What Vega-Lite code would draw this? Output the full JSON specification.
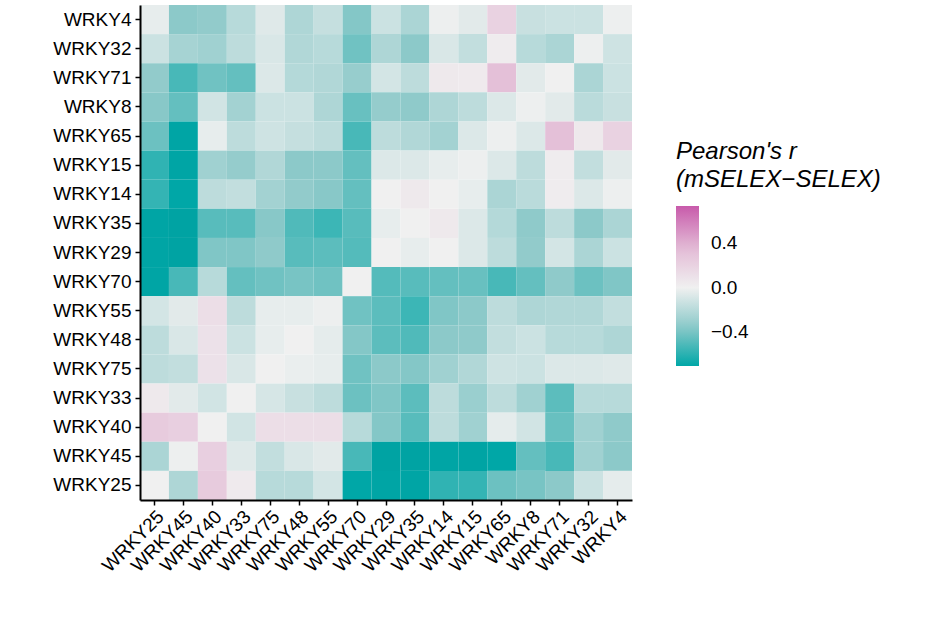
{
  "$schema": "https://vega.github.io/schema/vega-lite/v6.json",
  "width": 492,
  "height": 495,
  "autosize": {"type": "none"},
  "padding": {"left": 140, "top": 5, "right": 302, "bottom": 124},
  "background": "white",
  "config": {
    "font": "Liberation Sans",
    "view": {"stroke": null},
    "axis": {"domainColor": "black", "domainWidth": 2, "tickColor": "black", "tickWidth": 1.5, "tickSize": 5, "labelColor": "black", "labelFontSize": 19, "labelFont": "Liberation Sans", "title": null, "grid": false}
  },
  "data": {"values": [
{"r":"WRKY4","c":"WRKY25","v":-0.03},{"r":"WRKY4","c":"WRKY45","v":-0.35},{"r":"WRKY4","c":"WRKY40","v":-0.33},{"r":"WRKY4","c":"WRKY33","v":-0.2},{"r":"WRKY4","c":"WRKY75","v":-0.06},{"r":"WRKY4","c":"WRKY48","v":-0.23},{"r":"WRKY4","c":"WRKY55","v":-0.15},{"r":"WRKY4","c":"WRKY70","v":-0.37},{"r":"WRKY4","c":"WRKY29","v":-0.13},{"r":"WRKY4","c":"WRKY35","v":-0.24},{"r":"WRKY4","c":"WRKY14","v":-0.01},{"r":"WRKY4","c":"WRKY15","v":-0.05},{"r":"WRKY4","c":"WRKY65","v":0.2},{"r":"WRKY4","c":"WRKY8","v":-0.14},{"r":"WRKY4","c":"WRKY71","v":-0.13},{"r":"WRKY4","c":"WRKY32","v":-0.13},{"r":"WRKY4","c":"WRKY4","v":-0.01},
{"r":"WRKY32","c":"WRKY25","v":-0.13},{"r":"WRKY32","c":"WRKY45","v":-0.26},{"r":"WRKY32","c":"WRKY40","v":-0.28},{"r":"WRKY32","c":"WRKY33","v":-0.18},{"r":"WRKY32","c":"WRKY75","v":-0.08},{"r":"WRKY32","c":"WRKY48","v":-0.22},{"r":"WRKY32","c":"WRKY55","v":-0.2},{"r":"WRKY32","c":"WRKY70","v":-0.42},{"r":"WRKY32","c":"WRKY29","v":-0.23},{"r":"WRKY32","c":"WRKY35","v":-0.35},{"r":"WRKY32","c":"WRKY14","v":-0.08},{"r":"WRKY32","c":"WRKY15","v":-0.16},{"r":"WRKY32","c":"WRKY65","v":0.03},{"r":"WRKY32","c":"WRKY8","v":-0.2},{"r":"WRKY32","c":"WRKY71","v":-0.24},{"r":"WRKY32","c":"WRKY32","v":-0.01},{"r":"WRKY32","c":"WRKY4","v":-0.12},
{"r":"WRKY71","c":"WRKY25","v":-0.33},{"r":"WRKY71","c":"WRKY45","v":-0.52},{"r":"WRKY71","c":"WRKY40","v":-0.42},{"r":"WRKY71","c":"WRKY33","v":-0.45},{"r":"WRKY71","c":"WRKY75","v":-0.07},{"r":"WRKY71","c":"WRKY48","v":-0.21},{"r":"WRKY71","c":"WRKY55","v":-0.22},{"r":"WRKY71","c":"WRKY70","v":-0.31},{"r":"WRKY71","c":"WRKY29","v":-0.1},{"r":"WRKY71","c":"WRKY35","v":-0.18},{"r":"WRKY71","c":"WRKY14","v":0.05},{"r":"WRKY71","c":"WRKY15","v":0.04},{"r":"WRKY71","c":"WRKY65","v":0.32},{"r":"WRKY71","c":"WRKY8","v":-0.05},{"r":"WRKY71","c":"WRKY71","v":0},{"r":"WRKY71","c":"WRKY32","v":-0.24},{"r":"WRKY71","c":"WRKY4","v":-0.13},
{"r":"WRKY8","c":"WRKY25","v":-0.36},{"r":"WRKY8","c":"WRKY45","v":-0.45},{"r":"WRKY8","c":"WRKY40","v":-0.11},{"r":"WRKY8","c":"WRKY33","v":-0.27},{"r":"WRKY8","c":"WRKY75","v":-0.13},{"r":"WRKY8","c":"WRKY48","v":-0.13},{"r":"WRKY8","c":"WRKY55","v":-0.23},{"r":"WRKY8","c":"WRKY70","v":-0.44},{"r":"WRKY8","c":"WRKY29","v":-0.32},{"r":"WRKY8","c":"WRKY35","v":-0.34},{"r":"WRKY8","c":"WRKY14","v":-0.23},{"r":"WRKY8","c":"WRKY15","v":-0.18},{"r":"WRKY8","c":"WRKY65","v":-0.07},{"r":"WRKY8","c":"WRKY8","v":-0.01},{"r":"WRKY8","c":"WRKY71","v":-0.05},{"r":"WRKY8","c":"WRKY32","v":-0.19},{"r":"WRKY8","c":"WRKY4","v":-0.14},
{"r":"WRKY65","c":"WRKY25","v":-0.43},{"r":"WRKY65","c":"WRKY45","v":-0.72},{"r":"WRKY65","c":"WRKY40","v":-0.03},{"r":"WRKY65","c":"WRKY33","v":-0.18},{"r":"WRKY65","c":"WRKY75","v":-0.12},{"r":"WRKY65","c":"WRKY48","v":-0.15},{"r":"WRKY65","c":"WRKY55","v":-0.18},{"r":"WRKY65","c":"WRKY70","v":-0.52},{"r":"WRKY65","c":"WRKY29","v":-0.18},{"r":"WRKY65","c":"WRKY35","v":-0.22},{"r":"WRKY65","c":"WRKY14","v":-0.27},{"r":"WRKY65","c":"WRKY15","v":-0.07},{"r":"WRKY65","c":"WRKY65","v":-0.01},{"r":"WRKY65","c":"WRKY8","v":-0.07},{"r":"WRKY65","c":"WRKY71","v":0.32},{"r":"WRKY65","c":"WRKY32","v":0.05},{"r":"WRKY65","c":"WRKY4","v":0.2},
{"r":"WRKY15","c":"WRKY25","v":-0.58},{"r":"WRKY15","c":"WRKY45","v":-0.72},{"r":"WRKY15","c":"WRKY40","v":-0.28},{"r":"WRKY15","c":"WRKY33","v":-0.32},{"r":"WRKY15","c":"WRKY75","v":-0.22},{"r":"WRKY15","c":"WRKY48","v":-0.35},{"r":"WRKY15","c":"WRKY55","v":-0.35},{"r":"WRKY15","c":"WRKY70","v":-0.45},{"r":"WRKY15","c":"WRKY29","v":-0.07},{"r":"WRKY15","c":"WRKY35","v":-0.07},{"r":"WRKY15","c":"WRKY14","v":-0.03},{"r":"WRKY15","c":"WRKY15","v":-0.01},{"r":"WRKY15","c":"WRKY65","v":-0.07},{"r":"WRKY15","c":"WRKY8","v":-0.18},{"r":"WRKY15","c":"WRKY71","v":0.03},{"r":"WRKY15","c":"WRKY32","v":-0.16},{"r":"WRKY15","c":"WRKY4","v":-0.05},
{"r":"WRKY14","c":"WRKY25","v":-0.57},{"r":"WRKY14","c":"WRKY45","v":-0.7},{"r":"WRKY14","c":"WRKY40","v":-0.18},{"r":"WRKY14","c":"WRKY33","v":-0.16},{"r":"WRKY14","c":"WRKY75","v":-0.27},{"r":"WRKY14","c":"WRKY48","v":-0.33},{"r":"WRKY14","c":"WRKY55","v":-0.36},{"r":"WRKY14","c":"WRKY70","v":-0.45},{"r":"WRKY14","c":"WRKY29","v":0},{"r":"WRKY14","c":"WRKY35","v":0.05},{"r":"WRKY14","c":"WRKY14","v":0},{"r":"WRKY14","c":"WRKY15","v":-0.03},{"r":"WRKY14","c":"WRKY65","v":-0.24},{"r":"WRKY14","c":"WRKY8","v":-0.19},{"r":"WRKY14","c":"WRKY71","v":0.03},{"r":"WRKY14","c":"WRKY32","v":-0.07},{"r":"WRKY14","c":"WRKY4","v":-0.01},
{"r":"WRKY35","c":"WRKY25","v":-0.72},{"r":"WRKY35","c":"WRKY45","v":-0.74},{"r":"WRKY35","c":"WRKY40","v":-0.48},{"r":"WRKY35","c":"WRKY33","v":-0.48},{"r":"WRKY35","c":"WRKY75","v":-0.36},{"r":"WRKY35","c":"WRKY48","v":-0.5},{"r":"WRKY35","c":"WRKY55","v":-0.55},{"r":"WRKY35","c":"WRKY70","v":-0.48},{"r":"WRKY35","c":"WRKY29","v":-0.03},{"r":"WRKY35","c":"WRKY35","v":0},{"r":"WRKY35","c":"WRKY14","v":0.05},{"r":"WRKY35","c":"WRKY15","v":-0.07},{"r":"WRKY35","c":"WRKY65","v":-0.21},{"r":"WRKY35","c":"WRKY8","v":-0.34},{"r":"WRKY35","c":"WRKY71","v":-0.18},{"r":"WRKY35","c":"WRKY32","v":-0.35},{"r":"WRKY35","c":"WRKY4","v":-0.24},
{"r":"WRKY29","c":"WRKY25","v":-0.72},{"r":"WRKY29","c":"WRKY45","v":-0.74},{"r":"WRKY29","c":"WRKY40","v":-0.38},{"r":"WRKY29","c":"WRKY33","v":-0.38},{"r":"WRKY29","c":"WRKY75","v":-0.34},{"r":"WRKY29","c":"WRKY48","v":-0.48},{"r":"WRKY29","c":"WRKY55","v":-0.47},{"r":"WRKY29","c":"WRKY70","v":-0.49},{"r":"WRKY29","c":"WRKY29","v":0},{"r":"WRKY29","c":"WRKY35","v":-0.03},{"r":"WRKY29","c":"WRKY14","v":0},{"r":"WRKY29","c":"WRKY15","v":-0.07},{"r":"WRKY29","c":"WRKY65","v":-0.18},{"r":"WRKY29","c":"WRKY8","v":-0.33},{"r":"WRKY29","c":"WRKY71","v":-0.1},{"r":"WRKY29","c":"WRKY32","v":-0.24},{"r":"WRKY29","c":"WRKY4","v":-0.13},
{"r":"WRKY70","c":"WRKY25","v":-0.72},{"r":"WRKY70","c":"WRKY45","v":-0.52},{"r":"WRKY70","c":"WRKY40","v":-0.2},{"r":"WRKY70","c":"WRKY33","v":-0.45},{"r":"WRKY70","c":"WRKY75","v":-0.42},{"r":"WRKY70","c":"WRKY48","v":-0.4},{"r":"WRKY70","c":"WRKY55","v":-0.42},{"r":"WRKY70","c":"WRKY70","v":0},{"r":"WRKY70","c":"WRKY29","v":-0.49},{"r":"WRKY70","c":"WRKY35","v":-0.48},{"r":"WRKY70","c":"WRKY14","v":-0.45},{"r":"WRKY70","c":"WRKY15","v":-0.44},{"r":"WRKY70","c":"WRKY65","v":-0.52},{"r":"WRKY70","c":"WRKY8","v":-0.45},{"r":"WRKY70","c":"WRKY71","v":-0.34},{"r":"WRKY70","c":"WRKY32","v":-0.43},{"r":"WRKY70","c":"WRKY4","v":-0.38},
{"r":"WRKY55","c":"WRKY25","v":-0.1},{"r":"WRKY55","c":"WRKY45","v":-0.05},{"r":"WRKY55","c":"WRKY40","v":0.12},{"r":"WRKY55","c":"WRKY33","v":-0.18},{"r":"WRKY55","c":"WRKY75","v":-0.03},{"r":"WRKY55","c":"WRKY48","v":-0.03},{"r":"WRKY55","c":"WRKY55","v":-0.01},{"r":"WRKY55","c":"WRKY70","v":-0.42},{"r":"WRKY55","c":"WRKY29","v":-0.47},{"r":"WRKY55","c":"WRKY35","v":-0.55},{"r":"WRKY55","c":"WRKY14","v":-0.38},{"r":"WRKY55","c":"WRKY15","v":-0.35},{"r":"WRKY55","c":"WRKY65","v":-0.18},{"r":"WRKY55","c":"WRKY8","v":-0.23},{"r":"WRKY55","c":"WRKY71","v":-0.22},{"r":"WRKY55","c":"WRKY32","v":-0.22},{"r":"WRKY55","c":"WRKY4","v":-0.16},
{"r":"WRKY48","c":"WRKY25","v":-0.18},{"r":"WRKY48","c":"WRKY45","v":-0.08},{"r":"WRKY48","c":"WRKY40","v":0.1},{"r":"WRKY48","c":"WRKY33","v":-0.13},{"r":"WRKY48","c":"WRKY75","v":-0.03},{"r":"WRKY48","c":"WRKY48","v":0},{"r":"WRKY48","c":"WRKY55","v":-0.04},{"r":"WRKY48","c":"WRKY70","v":-0.37},{"r":"WRKY48","c":"WRKY29","v":-0.47},{"r":"WRKY48","c":"WRKY35","v":-0.5},{"r":"WRKY48","c":"WRKY14","v":-0.35},{"r":"WRKY48","c":"WRKY15","v":-0.34},{"r":"WRKY48","c":"WRKY65","v":-0.16},{"r":"WRKY48","c":"WRKY8","v":-0.13},{"r":"WRKY48","c":"WRKY71","v":-0.2},{"r":"WRKY48","c":"WRKY32","v":-0.2},{"r":"WRKY48","c":"WRKY4","v":-0.23},
{"r":"WRKY75","c":"WRKY25","v":-0.18},{"r":"WRKY75","c":"WRKY45","v":-0.16},{"r":"WRKY75","c":"WRKY40","v":0.1},{"r":"WRKY75","c":"WRKY33","v":-0.08},{"r":"WRKY75","c":"WRKY75","v":0},{"r":"WRKY75","c":"WRKY48","v":-0.02},{"r":"WRKY75","c":"WRKY55","v":-0.03},{"r":"WRKY75","c":"WRKY70","v":-0.42},{"r":"WRKY75","c":"WRKY29","v":-0.35},{"r":"WRKY75","c":"WRKY35","v":-0.37},{"r":"WRKY75","c":"WRKY14","v":-0.28},{"r":"WRKY75","c":"WRKY15","v":-0.22},{"r":"WRKY75","c":"WRKY65","v":-0.12},{"r":"WRKY75","c":"WRKY8","v":-0.13},{"r":"WRKY75","c":"WRKY71","v":-0.07},{"r":"WRKY75","c":"WRKY32","v":-0.07},{"r":"WRKY75","c":"WRKY4","v":-0.06},
{"r":"WRKY33","c":"WRKY25","v":0.05},{"r":"WRKY33","c":"WRKY45","v":-0.05},{"r":"WRKY33","c":"WRKY40","v":-0.11},{"r":"WRKY33","c":"WRKY33","v":0},{"r":"WRKY33","c":"WRKY75","v":-0.09},{"r":"WRKY33","c":"WRKY48","v":-0.14},{"r":"WRKY33","c":"WRKY55","v":-0.18},{"r":"WRKY33","c":"WRKY70","v":-0.43},{"r":"WRKY33","c":"WRKY29","v":-0.38},{"r":"WRKY33","c":"WRKY35","v":-0.47},{"r":"WRKY33","c":"WRKY14","v":-0.18},{"r":"WRKY33","c":"WRKY15","v":-0.3},{"r":"WRKY33","c":"WRKY65","v":-0.18},{"r":"WRKY33","c":"WRKY8","v":-0.28},{"r":"WRKY33","c":"WRKY71","v":-0.47},{"r":"WRKY33","c":"WRKY32","v":-0.2},{"r":"WRKY33","c":"WRKY4","v":-0.2},
{"r":"WRKY40","c":"WRKY25","v":0.25},{"r":"WRKY40","c":"WRKY45","v":0.22},{"r":"WRKY40","c":"WRKY40","v":0},{"r":"WRKY40","c":"WRKY33","v":-0.11},{"r":"WRKY40","c":"WRKY75","v":0.12},{"r":"WRKY40","c":"WRKY48","v":0.12},{"r":"WRKY40","c":"WRKY55","v":0.12},{"r":"WRKY40","c":"WRKY70","v":-0.2},{"r":"WRKY40","c":"WRKY29","v":-0.37},{"r":"WRKY40","c":"WRKY35","v":-0.48},{"r":"WRKY40","c":"WRKY14","v":-0.18},{"r":"WRKY40","c":"WRKY15","v":-0.28},{"r":"WRKY40","c":"WRKY65","v":-0.04},{"r":"WRKY40","c":"WRKY8","v":-0.11},{"r":"WRKY40","c":"WRKY71","v":-0.44},{"r":"WRKY40","c":"WRKY32","v":-0.28},{"r":"WRKY40","c":"WRKY4","v":-0.34},
{"r":"WRKY45","c":"WRKY25","v":-0.24},{"r":"WRKY45","c":"WRKY45","v":-0.01},{"r":"WRKY45","c":"WRKY40","v":0.22},{"r":"WRKY45","c":"WRKY33","v":-0.06},{"r":"WRKY45","c":"WRKY75","v":-0.16},{"r":"WRKY45","c":"WRKY48","v":-0.08},{"r":"WRKY45","c":"WRKY55","v":-0.05},{"r":"WRKY45","c":"WRKY70","v":-0.52},{"r":"WRKY45","c":"WRKY29","v":-0.74},{"r":"WRKY45","c":"WRKY35","v":-0.74},{"r":"WRKY45","c":"WRKY14","v":-0.72},{"r":"WRKY45","c":"WRKY15","v":-0.73},{"r":"WRKY45","c":"WRKY65","v":-0.7},{"r":"WRKY45","c":"WRKY8","v":-0.45},{"r":"WRKY45","c":"WRKY71","v":-0.52},{"r":"WRKY45","c":"WRKY32","v":-0.28},{"r":"WRKY45","c":"WRKY4","v":-0.35},
{"r":"WRKY25","c":"WRKY25","v":0},{"r":"WRKY25","c":"WRKY45","v":-0.23},{"r":"WRKY25","c":"WRKY40","v":0.25},{"r":"WRKY25","c":"WRKY33","v":0.04},{"r":"WRKY25","c":"WRKY75","v":-0.2},{"r":"WRKY25","c":"WRKY48","v":-0.2},{"r":"WRKY25","c":"WRKY55","v":-0.1},{"r":"WRKY25","c":"WRKY70","v":-0.7},{"r":"WRKY25","c":"WRKY29","v":-0.72},{"r":"WRKY25","c":"WRKY35","v":-0.72},{"r":"WRKY25","c":"WRKY14","v":-0.58},{"r":"WRKY25","c":"WRKY15","v":-0.57},{"r":"WRKY25","c":"WRKY65","v":-0.43},{"r":"WRKY25","c":"WRKY8","v":-0.4},{"r":"WRKY25","c":"WRKY71","v":-0.35},{"r":"WRKY25","c":"WRKY32","v":-0.13},{"r":"WRKY25","c":"WRKY4","v":-0.04}
  ]},
  "mark": {"type": "rect"},
  "encoding": {
    "x": {"field": "c", "type": "nominal", "sort": ["WRKY25","WRKY45","WRKY40","WRKY33","WRKY75","WRKY48","WRKY55","WRKY70","WRKY29","WRKY35","WRKY14","WRKY15","WRKY65","WRKY8","WRKY71","WRKY32","WRKY4"], "scale": {"paddingInner": 0, "paddingOuter": 0},
      "axis": {"labelAngle": -45, "labelAlign": "right", "labelBaseline": "top", "labelPadding": 2}},
    "y": {"field": "r", "type": "nominal", "sort": ["WRKY4","WRKY32","WRKY71","WRKY8","WRKY65","WRKY15","WRKY14","WRKY35","WRKY29","WRKY70","WRKY55","WRKY48","WRKY75","WRKY33","WRKY40","WRKY45","WRKY25"], "scale": {"paddingInner": 0, "paddingOuter": 0},
      "axis": {"labelPadding": 4}},
    "color": {"field": "v", "type": "quantitative",
      "scale": {"domain": [-0.7, -0.35, 0, 0.35, 0.73], "range": ["#00A7A7", "#8CC9C9", "#F0F0F0", "#E3BCD6", "#C85AAB"], "interpolate": "rgb"},
      "legend": {"title": ["Pearson's r", "(mSELEX−SELEX)"], "titleFontStyle": "italic", "titleFontWeight": "normal", "titleFontSize": 24, "titleColor": "black", "titlePadding": 14, "titleLineHeight": 28, "titleLimit": 400,
        "values": [-0.4, 0, 0.4], "labelExpr": "replace(format(datum.value, '.1f'), '-', '−')", "labelFontSize": 19, "labelColor": "black", "labelOffset": 12,
        "gradientLength": 160, "gradientThickness": 23, "tickCount": 3,
        "orient": "none", "legendX": 536, "legendY": 135}}
  }
}
